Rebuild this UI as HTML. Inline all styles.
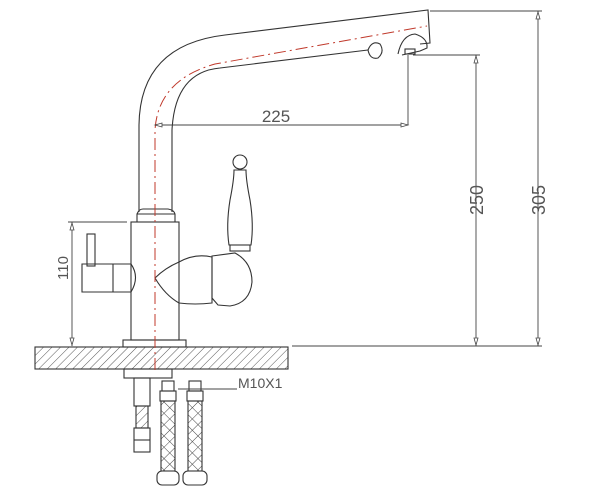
<!DOCTYPE html>
<html><head><style>html,body{margin:0;padding:0;background:#fff;width:600px;height:500px;overflow:hidden}</style></head>
<body>
<svg width="600" height="500" viewBox="0 0 600 500" xmlns="http://www.w3.org/2000/svg">
<defs>
<pattern id="h" width="6" height="6" patternUnits="userSpaceOnUse" patternTransform="rotate(45)">
<line x1="0" y1="0" x2="0" y2="6" stroke="#444" stroke-width="0.9"/></pattern>
<pattern id="x" width="8" height="8" patternUnits="userSpaceOnUse" patternTransform="rotate(45)">
<line x1="0" y1="0" x2="0" y2="8" stroke="#444" stroke-width="1"/><line x1="0" y1="0" x2="8" y2="0" stroke="#444" stroke-width="1"/></pattern>
</defs>
<g fill="none" stroke="#333" stroke-width="1.1">
<path d="M139,212 L139,125 Q140,45 225,35 L428,10 L430,43 L420,44"/>
<path d="M172,212 L172,130 Q175,72 220,68 L368,50"/>
<path d="M368,50 Q372,40 380,44 Q385,52 378,58 Q370,60 368,50Z"/>
<path d="M398,54 Q402,35 415,34 Q428,38 427,48 L420,51 L402,55"/>
<rect x="405" y="49" width="10" height="5"/>
<path d="M137,222 L137,214 Q139,209 143,209 L168,209 Q174,210 175,214 L175,222"/>
<line x1="137" y1="214" x2="175" y2="214"/>
<rect x="131" y="222" width="48" height="118"/>
<rect x="123" y="340" width="63" height="7"/>
<rect x="87" y="234" width="8" height="32"/>
<path d="M82,264 L131,264 Q140,277 131,292 L82,292 Z"/>
<line x1="113" y1="264" x2="113" y2="292"/>
<path d="M179,262 Q165,268 155,278 Q165,295 179,303 Q195,305 212,303 L212,257 Q195,253 179,262Z"/>
<path d="M212,256 L235,253 Q252,262 252,282 Q250,303 230,306 L218,305 L212,298Z"/>
<circle cx="240" cy="162" r="7"/>
<path d="M234,170 L246,170 Q246,180 250,200 Q254,225 251,245 L229,245 Q226,225 230,200 Q234,180 234,170Z"/>
<rect x="230" y="245" width="20" height="6"/>
<rect x="35" y="347" width="253" height="22" fill="url(#h)"/>
<rect x="124" y="369" width="48" height="9"/>
<rect x="134" y="378" width="16" height="28"/>
<rect x="136" y="406" width="12" height="22" fill="url(#h)"/>
<rect x="134" y="428" width="16" height="24"/>
<line x1="134" y1="440" x2="150" y2="440"/>
<rect x="162" y="381" width="12" height="10"/>
<rect x="160" y="391" width="16" height="10"/>
<rect x="161" y="401" width="14" height="70" fill="url(#x)"/>
<rect x="157" y="471" width="22" height="14" rx="5"/>
<rect x="189" y="381" width="12" height="10"/>
<rect x="187" y="391" width="16" height="10"/>
<rect x="188" y="401" width="14" height="70" fill="url(#x)"/>
<rect x="183" y="471" width="24" height="14" rx="5"/>
</g>
<path d="M155,370 L155,130 Q158,80 215,64 L427,26" fill="none" stroke="#c0392b" stroke-width="1" stroke-dasharray="12,4,2,4"/>
<g stroke="#444" stroke-width="0.9" fill="none">
<line x1="155" y1="125" x2="408" y2="125"/>
<line x1="408" y1="55" x2="408" y2="125"/>
<line x1="413" y1="55" x2="480" y2="55"/>
<line x1="430" y1="11" x2="542" y2="11"/>
<line x1="476" y1="55" x2="476" y2="346"/>
<line x1="538" y1="11" x2="538" y2="346"/>
<line x1="292" y1="346" x2="542" y2="346"/>
<line x1="68" y1="222" x2="127" y2="222"/>
<line x1="72" y1="222" x2="72" y2="346"/>
<line x1="178" y1="389" x2="237" y2="389"/>
</g>
<g fill="#fff" stroke="#444" stroke-width="0.8">
<path d="M155,125 l7,-2 l0,4z"/><path d="M408,125 l-7,-2 l0,4z"/>
<path d="M476,56 l-2,7 l4,0z"/><path d="M476,345 l-2,-7 l4,0z"/>
<path d="M538,12 l-2,7 l4,0z"/><path d="M538,345 l-2,-7 l4,0z"/>
<path d="M72,223 l-2,7 l4,0z"/><path d="M72,345 l-2,-7 l4,0z"/>
</g>
<g font-family="Liberation Sans, sans-serif" font-size="18" fill="#555">
<text x="276" y="122" text-anchor="middle" font-size="17">225</text>
<text transform="translate(483,200) rotate(-90)" text-anchor="middle">250</text>
<text transform="translate(545,200) rotate(-90)" text-anchor="middle">305</text>
<text transform="translate(68,268) rotate(-90)" text-anchor="middle" font-size="15">110</text>
<text x="238" y="388" font-size="14">M10X1</text>
</g>
</svg>
</body></html>
